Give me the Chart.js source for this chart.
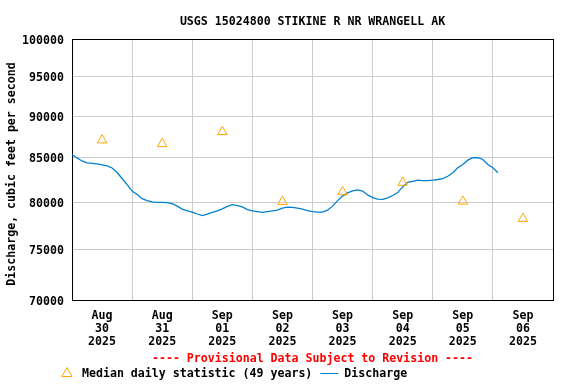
<!DOCTYPE html>
<html>
<head>
<meta charset="utf-8">
<script src="https://cdn.jsdelivr.net/npm/chart.js@4/dist/chart.umd.min.js"></script>
<style>
  html, body { margin: 0; padding: 0; background: #fff; }
  #wrap { width: 576px; height: 384px; }
</style>
</head>
<body>
<div id="wrap"><canvas id="chart" width="576" height="384"></canvas></div>
<script>
// chart data
const chartTitle = 'USGS 15024800 STIKINE R NR WRANGELL AK';
const yAxisTitle = 'Discharge, cubic feet per second';
const provisionalNote = '---- Provisional Data Subject to Revision ----';
const medianLabel = 'Median daily statistic (49 years)';
const dischargeLabel = 'Discharge';

// one label per day, Aug 30 .. Sep 06 2025
const dayLabels = [
  ['Aug', '30', '2025'], ['Aug', '31', '2025'], ['Sep', '01', '2025'], ['Sep', '02', '2025'],
  ['Sep', '03', '2025'], ['Sep', '04', '2025'], ['Sep', '05', '2025'], ['Sep', '06', '2025']
];
const yTicks = [70000, 75000, 80000, 85000, 90000, 95000, 100000];

// median daily statistic, one per day (plotted at noon)
const medianValues = [87090, 86650, 88090, 80070, 81140, 82190, 80100, 78230];

// discharge, every 2 hours from Aug 30 00:00
const dischargeStepHours = 2;
const dischargeValues = [
  85400, 85000, 84650, 84420, 84360, 84300, 84190, 84070, 83840, 83320,
  82640, 81960, 81240, 80850, 80400, 80180, 80040, 80000, 80000, 79960,
  79850, 79580, 79250, 79060, 78930, 78730, 78550, 78710, 78900, 79060,
  79280, 79560, 79740, 79630, 79490, 79200, 79060, 78980, 78910, 78980,
  79060, 79140, 79360, 79470, 79450, 79360, 79250, 79090, 78980, 78930,
  78930, 79140, 79580, 80180, 80680, 81030, 81260, 81370, 81240, 80810,
  80510, 80350, 80330, 80480, 80740, 81070, 81700, 82220, 82330, 82450,
  82400, 82400, 82450, 82530, 82640, 82900, 83290, 83860, 84240, 84740,
  85020, 85020, 84820, 84240, 83860, 83290
];

const FONT = "bold 11.6px 'DejaVu Sans Mono', monospace";
const BLUE = '#0080d0';
const ORANGE = '#ffa500';

const medianPoints = medianValues.map((v, i) => ({ x: i * 24 + 12, y: v }));
const dischargePoints = dischargeValues.map((v, i) => ({ x: i * dischargeStepHours, y: v }));

// title, y title, frame, provisional note and legend
const decorations = {
  id: 'decorations',
  beforeDatasetsDraw(chart) {
    const { ctx, chartArea: a } = chart;
    ctx.save();
    ctx.strokeStyle = '#000';
    ctx.lineWidth = 1;
    ctx.strokeRect(a.left + 0.5, a.top + 0.5, a.right - a.left, a.bottom - a.top);
    ctx.restore();
  },
  afterDraw(chart) {
    const { ctx, chartArea: a } = chart;
    const cx = (a.left + a.right) / 2;
    ctx.save();
    ctx.font = FONT;
    ctx.textBaseline = 'middle';

    ctx.fillStyle = '#000';
    ctx.textAlign = 'center';
    ctx.fillText(chartTitle, cx, 21.5);

    ctx.save();
    ctx.translate(12, 174);
    ctx.rotate(-Math.PI / 2);
    ctx.fillText(yAxisTitle, 0, 0);
    ctx.restore();

    ctx.fillStyle = '#ff0000';
    ctx.fillText(provisionalNote, cx, 359);

    // legend
    const ly = 373.5;
    ctx.strokeStyle = ORANGE;
    ctx.lineWidth = 1;
    ctx.beginPath();
    ctx.moveTo(67, 367.5);
    ctx.lineTo(72, 376.5);
    ctx.lineTo(62, 376.5);
    ctx.closePath();
    ctx.stroke();

    ctx.fillStyle = '#000';
    ctx.textAlign = 'left';
    ctx.fillText(medianLabel, 82, ly);
    const w = ctx.measureText(medianLabel).width;
    const lx = 82 + w + 8;
    ctx.strokeStyle = BLUE;
    ctx.beginPath();
    ctx.moveTo(lx, 373.5);
    ctx.lineTo(lx + 18, 373.5);
    ctx.stroke();
    ctx.fillText(dischargeLabel, lx + 24, ly);
    ctx.restore();
  }
};

new Chart(document.getElementById('chart'), {
  type: 'scatter',
  data: {
    datasets: [
      {
        label: medianLabel,
        data: medianPoints,
        showLine: false,
        pointStyle: 'triangle',
        pointRadius: 5.5,
        pointBorderWidth: 1,
        pointBorderColor: ORANGE,
        pointBackgroundColor: 'rgba(0,0,0,0)'
      },
      {
        label: dischargeLabel,
        data: dischargePoints,
        showLine: true,
        borderColor: BLUE,
        borderWidth: 1.3,
        pointRadius: 0,
        tension: 0
      }
    ]
  },
  options: {
    responsive: false,
    animation: false,
    layout: { padding: { top: 39, right: 23, left: 0, bottom: 0 } },
    plugins: {
      legend: { display: false },
      title: { display: false },
      tooltip: { enabled: false }
    },
    scales: {
      x: {
        type: 'linear',
        min: 0,
        max: dayLabels.length * 24,
        afterFit: s => { s.height = 84; },
        afterBuildTicks: s => {
          const t = [];
          for (let h = 0; h <= dayLabels.length * 24; h += 12) t.push({ value: h });
          s.ticks = t;
        },
        border: { display: false },
        grid: {
          drawTicks: false,
          color: c => (c.tick && c.tick.value % 24 === 0) ? '#cccccc' : 'rgba(0,0,0,0)'
        },
        ticks: {
          autoSkip: false,
          maxRotation: 0,
          padding: 9,
          color: '#000',
          font: { family: "'DejaVu Sans Mono', monospace", size: 11.6, weight: 'bold', lineHeight: 1.15 },
          callback: v => (v % 24 === 12) ? dayLabels[(v - 12) / 24] : ''
        }
      },
      y: {
        type: 'logarithmic',
        min: yTicks[0],
        max: yTicks[yTicks.length - 1],
        afterFit: s => { s.width = 72; },
        afterBuildTicks: s => { s.ticks = yTicks.map(v => ({ value: v })); },
        border: { display: false },
        grid: { drawTicks: false, color: '#cccccc' },
        ticks: {
          padding: 8,
          labelOffset: 1.5,
          color: '#000',
          font: { family: "'DejaVu Sans Mono', monospace", size: 11.6, weight: 'bold' },
          callback: v => String(v)
        }
      }
    }
  },
  plugins: [decorations]
});
</script>
</body>
</html>
